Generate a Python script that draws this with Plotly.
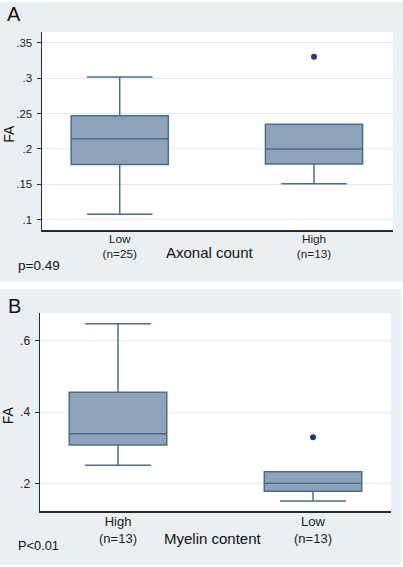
import plotly.graph_objects as go

W, H = 403, 567

# ---- Data ----
a_labels = ["Low<br>(n=25)", "High<br>(n=13)"]
a_q1 = [0.178, 0.1787]
a_median = [0.2145, 0.1998]
a_q3 = [0.2469, 0.2347]
a_lower = [0.1076, 0.1508]
a_upper = [0.3015, 0.2347]
a_outlier_x = [1]
a_outlier_y = [0.330]
a_yticks = [0.1, 0.15, 0.2, 0.25, 0.3, 0.35]
a_yticktext = [".1", ".15", ".2", ".25", ".3", ".35"]

b_labels = ["High<br>(n=13)", "Low<br>(n=13)"]
b_q1 = [0.3074, 0.1776]
b_median = [0.3391, 0.2000]
b_q3 = [0.4553, 0.2326]
b_lower = [0.2505, 0.1504]
b_upper = [0.6477, 0.2326]
b_outlier_x = [1]
b_outlier_y = [0.329]
b_yticks = [0.2, 0.4, 0.6]
b_yticktext = [".2", ".4", ".6"]

FILL = "#8da3b9"
LINE = "#4d6c8c"
DOT = "#1d3d6c"
PANEL = "#e9eff3"
GRID = "#e3eaef"
AXIS = "#2a2a2a"
FONT = "Liberation Sans, Arial, sans-serif"

def px(x):
    return x / W

def py(y):
    return 1 - y / H

fig = go.Figure()

box_common = dict(fillcolor=FILL, line=dict(color=LINE, width=1.5), width=0.5,
                  whiskerwidth=0.675, boxpoints=False, showlegend=False, hoverinfo="skip")

fig.add_trace(go.Box(x=[0, 1], q1=a_q1, median=a_median, q3=a_q3,
                     lowerfence=a_lower, upperfence=a_upper,
                     xaxis="x", yaxis="y", **box_common))
fig.add_trace(go.Scatter(x=a_outlier_x, y=a_outlier_y, mode="markers",
                         marker=dict(color=DOT, size=6), showlegend=False,
                         xaxis="x", yaxis="y"))
fig.add_trace(go.Box(x=[0, 1], q1=b_q1, median=b_median, q3=b_q3,
                     lowerfence=b_lower, upperfence=b_upper,
                     xaxis="x2", yaxis="y2", **box_common))
fig.add_trace(go.Scatter(x=b_outlier_x, y=b_outlier_y, mode="markers",
                         marker=dict(color=DOT, size=6), showlegend=False,
                         xaxis="x2", yaxis="y2"))

# plot-area pixel bounds
A_l, A_r, A_t, A_b = 42, 392.7, 31.7, 230
B_l, B_r, B_t, B_b = 40, 391, 313.3, 511

xcommon = dict(showgrid=False, zeroline=False, showline=True, linecolor=AXIS, linewidth=1.5,
               ticks="", tickvals=[0, 1], automargin=False)
ycommon = dict(showgrid=True, gridcolor=GRID, gridwidth=1, zeroline=False, showline=True,
               linecolor=AXIS, linewidth=1.5, ticks="outside", ticklen=4, tickcolor=AXIS,
               tickwidth=1, automargin=False, ticklabelstandoff=2)

fig.update_layout(
    width=W, height=H,
    margin=dict(l=0, r=0, t=0, b=0),
    paper_bgcolor="white", plot_bgcolor="white",
    xaxis=dict(domain=[px(A_l), px(A_r)], range=[-0.4, 1.405], anchor="y",
               ticktext=a_labels, tickfont=dict(family=FONT, color="#222", size=11.8),
               ticklabelstandoff=-3, **xcommon),
    yaxis=dict(domain=[py(A_b), py(A_t)], range=[0.0855, 0.3655], anchor="x",
               tickvals=a_yticks, ticktext=a_yticktext,
               tickfont=dict(family=FONT, color="#222", size=11.5), **ycommon),
    xaxis2=dict(domain=[px(B_l), px(B_r)], range=[-0.4, 1.4], anchor="y2",
                ticktext=b_labels, tickfont=dict(family=FONT, color="#222", size=13),
                ticklabelstandoff=-2, **xcommon),
    yaxis2=dict(domain=[py(B_b), py(B_t)], range=[0.1223, 0.677], anchor="x2",
                tickvals=b_yticks, ticktext=b_yticktext,
                tickfont=dict(family=FONT, color="#222", size=12), **ycommon),
    shapes=[
        dict(type="rect", xref="paper", yref="paper", x0=0, x1=1, y0=py(281.7), y1=py(2),
             fillcolor=PANEL, line=dict(width=0), layer="below"),
        dict(type="rect", xref="paper", yref="paper", x0=0, x1=px(401), y0=py(565), y1=py(289.3),
             fillcolor=PANEL, line=dict(width=0), layer="below"),
        dict(type="rect", xref="paper", yref="paper", x0=px(A_l), x1=px(A_r), y0=py(A_b), y1=py(A_t),
             fillcolor="white", line=dict(width=0), layer="below"),
        dict(type="rect", xref="paper", yref="paper", x0=px(B_l), x1=px(B_r), y0=py(B_b), y1=py(B_t),
             fillcolor="white", line=dict(width=0), layer="below"),
    ],
)

def ann(text, x, y, size, xanchor="left", angle=0):
    fig.add_annotation(text=text, x=px(x), y=py(y), xref="paper", yref="paper",
                       xanchor=xanchor, yanchor="middle", showarrow=False, textangle=angle,
                       font=dict(family=FONT, size=size, color="#111"))

ann("A", 5, 14, 20)
ann("B", 6, 305.5, 20)
ann("p=0.49", 15.5, 265.7, 13.5)
ann("P<0.01", 16, 545, 12.8)
ann("Axonal count", 210.3, 253, 15, xanchor="center")
ann("Myelin content", 213, 538.3, 15, xanchor="center")
ann("FA", 8.3, 133.5, 14, xanchor="center", angle=-90)
ann("FA", 8.3, 415, 14, xanchor="center", angle=-90)

fig.write_html("out.html", config={"displayModeBar": False, "staticPlot": True},
               post_script="document.body.style.margin='0px';document.body.style.overflow='hidden';")
